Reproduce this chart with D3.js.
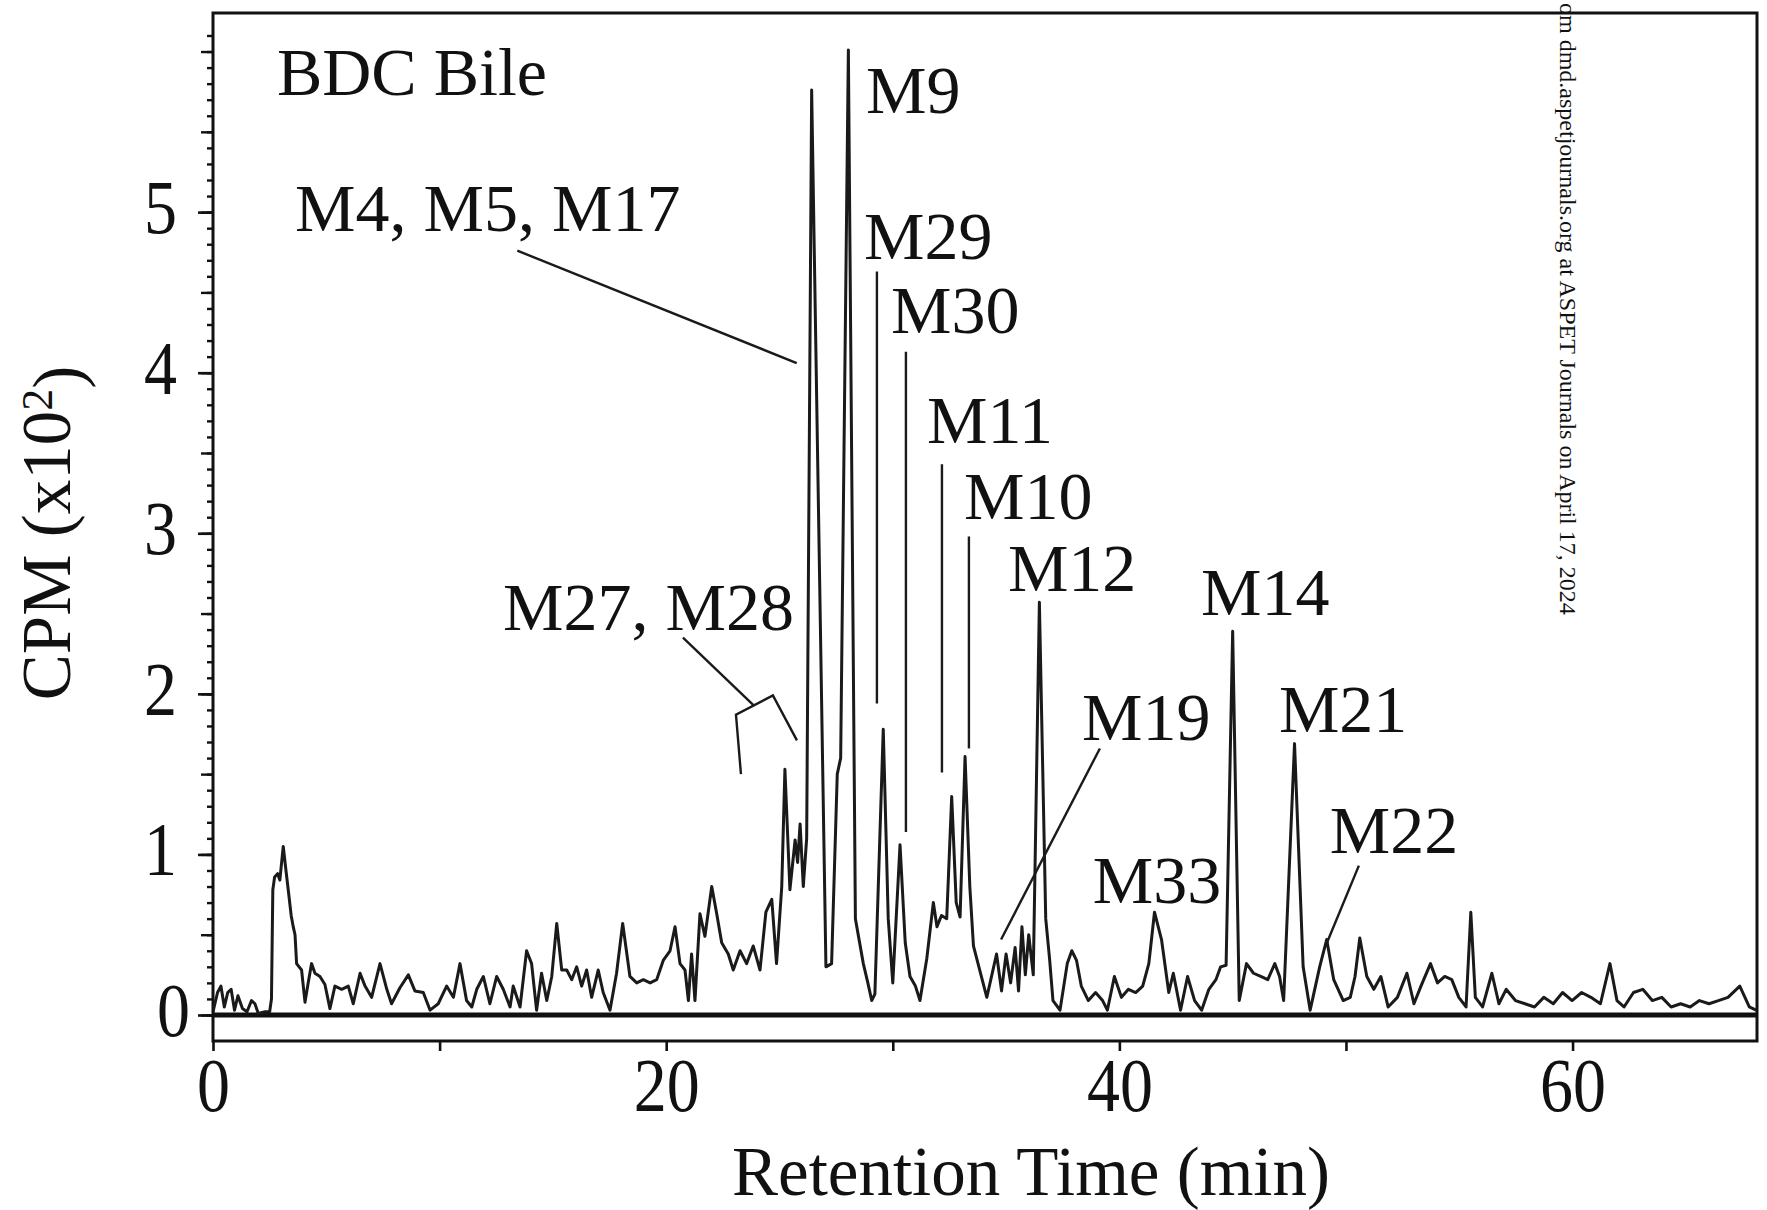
<!DOCTYPE html>
<html>
<head>
<meta charset="utf-8">
<script src="https://cdn.jsdelivr.net/npm/d3@7"></script>
<style>
    body { margin: 0; background: #fff; }
    svg text { font-family: "Liberation Serif", "Times New Roman", serif; fill: #111; }
</style>
</head>
<body>
<svg id="chart" width="1767" height="1210"></svg>
<script>
'use strict';

// radio trace: [retention time (min), CPM x10^2]
var trace = [
    [0.0, 0.02], [0.2, 0.14], [0.35, 0.18], [0.5, 0.05], [0.65, 0.14], [0.8, 0.16], [0.95, 0.03],
    [1.1, 0.12], [1.3, 0.04], [1.5, 0.02], [1.7, 0.09], [1.85, 0.07], [2.0, 0.01], [2.3, 0.02],
    [2.5, 0.02], [2.58, 0.1], [2.64, 0.78], [2.72, 0.86], [2.85, 0.88], [2.95, 0.84], [3.1, 1.05],
    [3.22, 0.9], [3.32, 0.78], [3.45, 0.62], [3.54, 0.55], [3.62, 0.5], [3.69, 0.32], [3.8, 0.3],
    [3.91, 0.28], [4.06, 0.08], [4.2, 0.2], [4.35, 0.32], [4.5, 0.26], [4.72, 0.24], [4.94, 0.19],
    [5.16, 0.04], [5.38, 0.18], [5.68, 0.16], [5.97, 0.18], [6.19, 0.07], [6.49, 0.26], [6.71, 0.18],
    [7.0, 0.11], [7.37, 0.32], [7.67, 0.16], [7.88, 0.07], [8.25, 0.17], [8.62, 0.25], [8.91, 0.15],
    [9.28, 0.14], [9.58, 0.03], [9.94, 0.07], [10.31, 0.18], [10.61, 0.11], [10.9, 0.32], [11.19, 0.09],
    [11.42, 0.05], [11.64, 0.16], [11.93, 0.24], [12.22, 0.07], [12.52, 0.24], [12.81, 0.16], [13.11, 0.05],
    [13.25, 0.18], [13.55, 0.05], [13.84, 0.4], [14.06, 0.32], [14.28, 0.03], [14.5, 0.26], [14.73, 0.09],
    [14.95, 0.24], [15.17, 0.57], [15.39, 0.28], [15.61, 0.28], [15.83, 0.22], [16.05, 0.3], [16.27, 0.18],
    [16.49, 0.28], [16.71, 0.11], [17.0, 0.28], [17.22, 0.14], [17.52, 0.03], [17.81, 0.26], [18.08, 0.57],
    [18.4, 0.24], [18.7, 0.2], [18.99, 0.22], [19.29, 0.2], [19.58, 0.22], [19.87, 0.34], [20.17, 0.4],
    [20.39, 0.55], [20.61, 0.32], [20.83, 0.28], [20.98, 0.09], [21.12, 0.38], [21.27, 0.09], [21.49, 0.63],
    [21.71, 0.49], [22.01, 0.8], [22.23, 0.63], [22.45, 0.45], [22.74, 0.38], [22.96, 0.28], [23.26, 0.4],
    [23.55, 0.32], [23.84, 0.43], [24.14, 0.28], [24.4, 0.64], [24.66, 0.72], [24.87, 0.32], [25.1, 0.8],
    [25.24, 1.53], [25.46, 0.78], [25.69, 1.09], [25.8, 0.95], [25.91, 1.19], [26.05, 0.8], [26.2, 1.1],
    [26.42, 5.76], [27.05, 0.3], [27.3, 0.32], [27.55, 1.5], [27.7, 1.6], [28.04, 6.01], [28.35, 0.6],
    [28.7, 0.32], [28.9, 0.2], [29.07, 0.09], [29.21, 0.13], [29.58, 1.78], [29.8, 0.6], [30.0, 0.2],
    [30.32, 1.06], [30.55, 0.45], [30.76, 0.24], [31.0, 0.18], [31.2, 0.09], [31.5, 0.35], [31.79, 0.7],
    [31.95, 0.55], [32.15, 0.62], [32.38, 0.6], [32.6, 1.36], [32.8, 0.7], [32.97, 0.61], [33.19, 1.61],
    [33.4, 0.8], [33.56, 0.43], [33.8, 0.3], [34.15, 0.11], [34.58, 0.38], [34.8, 0.15], [35.0, 0.38],
    [35.2, 0.2], [35.4, 0.42], [35.55, 0.15], [35.7, 0.55], [35.85, 0.25], [36.0, 0.5], [36.2, 0.25],
    [36.47, 2.57], [36.75, 0.6], [36.92, 0.35], [37.07, 0.09], [37.38, 0.03], [37.7, 0.32], [37.9, 0.4],
    [38.11, 0.34], [38.32, 0.18], [38.63, 0.09], [38.95, 0.14], [39.26, 0.09], [39.47, 0.03], [39.78, 0.24],
    [40.09, 0.11], [40.4, 0.16], [40.72, 0.14], [41.03, 0.18], [41.3, 0.32], [41.55, 0.64], [41.86, 0.47],
    [42.18, 0.14], [42.38, 0.26], [42.7, 0.03], [43.01, 0.24], [43.32, 0.09], [43.63, 0.03], [43.95, 0.16],
    [44.26, 0.22], [44.47, 0.3], [44.71, 0.31], [45.0, 2.39], [45.29, 0.09], [45.61, 0.32], [45.92, 0.26],
    [46.24, 0.24], [46.55, 0.22], [46.86, 0.32], [47.07, 0.24], [47.25, 0.09], [47.73, 1.69], [48.11, 0.3],
    [48.42, 0.03], [48.84, 0.3], [49.15, 0.47], [49.46, 0.22], [49.88, 0.09], [50.19, 0.11], [50.4, 0.24],
    [50.61, 0.48], [50.92, 0.24], [51.23, 0.16], [51.54, 0.24], [51.86, 0.05], [52.27, 0.11], [52.69, 0.26],
    [53.0, 0.07], [53.31, 0.18], [53.73, 0.32], [54.04, 0.2], [54.36, 0.24], [54.67, 0.22], [54.98, 0.11],
    [55.3, 0.05], [55.51, 0.64], [55.71, 0.11], [56.03, 0.05], [56.44, 0.26], [56.75, 0.07], [57.07, 0.16],
    [57.48, 0.09], [57.9, 0.07], [58.32, 0.05], [58.73, 0.11], [59.15, 0.07], [59.56, 0.14], [59.98, 0.09],
    [60.4, 0.14], [60.81, 0.11], [61.23, 0.07], [61.65, 0.32], [61.96, 0.09], [62.27, 0.05], [62.69, 0.14],
    [63.1, 0.16], [63.52, 0.09], [63.94, 0.11], [64.35, 0.05], [64.77, 0.07], [65.19, 0.05], [65.6, 0.09],
    [66.02, 0.07], [66.44, 0.09], [66.86, 0.11], [67.38, 0.18], [67.8, 0.05], [68.1, 0.03]
];

var xTickValues = [0, 10, 20, 30, 40, 50, 60];
var xTickLabels = [0, 20, 40, 60];
var yTickLabels = [0, 1, 2, 3, 4, 5];

// metabolite labels, anchored at the left end of their baseline (time, cpm)
var peakLabels = [
    {text: "M4, M5, M17", t: 3.62, v: 4.88},
    {text: "M27, M28", t: 12.8, v: 2.40},
    {text: "M9", t: 28.82, v: 5.62},
    {text: "M29", t: 28.73, v: 4.71},
    {text: "M30", t: 29.92, v: 4.25},
    {text: "M11", t: 31.51, v: 3.56},
    {text: "M10", t: 33.14, v: 3.09},
    {text: "M12", t: 35.08, v: 2.64},
    {text: "M14", t: 43.6, v: 2.49},
    {text: "M19", t: 38.35, v: 1.71},
    {text: "M21", t: 47.04, v: 1.76},
    {text: "M22", t: 49.29, v: 1.01},
    {text: "M33", t: 38.83, v: 0.70}
];

// leader lines from labels to peaks, in (time, cpm)
var leaderLines = [
    [[13.43, 4.76], [25.76, 4.06]],
    [[20.74, 2.35], [23.85, 1.93]],
    [[23.3, 1.5], [23.08, 1.87], [24.71, 1.99], [25.77, 1.71]],
    [[29.3, 4.63], [29.3, 1.94]],
    [[30.58, 4.13], [30.58, 1.14]],
    [[32.17, 3.43], [32.17, 1.51]],
    [[33.36, 2.98], [33.36, 1.66]],
    [[39.14, 1.66], [34.78, 0.47]],
    [[50.57, 0.93], [49.16, 0.45]]
];

var panelTitle = {text: "BDC Bile", t: 2.82, v: 5.73};
var xTitle = "Retention Time (min)";
var watermark = "om dmd.aspetjournals.org at ASPET Journals on April 17, 2024";

var svg = d3.select("#chart");
var plotLeft = 213, plotRight = 1757, plotTop = 13, plotBottom = 1041;
var digitStretch = 1.15;

var x = d3.scaleLinear().domain([0, 68.14]).range([plotLeft, plotRight]);
var y = d3.scaleLinear().domain([0, 6.24]).range([1015, plotTop]);

svg.append("defs").append("clipPath")
    .attr("id", "plotClip")
    .append("rect")
    .attr("x", plotLeft)
    .attr("y", plotTop)
    .attr("width", plotRight - plotLeft)
    .attr("height", plotBottom - plotTop);

// y axis: minor, half and major ticks
function drawYTicks(values, size) {
    svg.append("g")
        .attr("transform", "translate(" + plotLeft + ",0)")
        .call(d3.axisLeft(y).tickValues(values).tickSize(size).tickSizeOuter(0).tickFormat(""))
        .call(function(g) {
            g.select(".domain").remove();
            g.selectAll("line").attr("stroke", "#111").attr("stroke-width", 2.4);
        });
}
drawYTicks(d3.range(0, 62).map(function(i) { return i / 10; }), 6);
drawYTicks(d3.range(0, 13).map(function(i) { return i / 2; }), 12);

var yAxis = svg.append("g")
    .attr("transform", "translate(" + plotLeft + ",0)")
    .call(d3.axisLeft(y).tickValues(yTickLabels).tickSize(15).tickSizeOuter(0).tickFormat(d3.format("d")));
yAxis.select(".domain").remove();
yAxis.selectAll("line").attr("stroke", "#111").attr("stroke-width", 2.6);
yAxis.selectAll("text")
    .attr("x", function(d) { return d === 0 ? -23 : -36; })
    .attr("dy", "0.27em")
    .attr("transform", "scale(1," + digitStretch + ")")
    .style("font-size", "66px")
    .style("font-family", "'Liberation Serif', serif")
    .attr("fill", "#111");

// x axis below the frame
var xAxis = svg.append("g")
    .attr("transform", "translate(0," + plotBottom + ")")
    .call(d3.axisBottom(x)
        .tickValues(xTickValues)
        .tickSize(10)
        .tickSizeOuter(0)
        .tickFormat(function(d) { return xTickLabels.indexOf(d) >= 0 ? d : ""; }));
xAxis.select(".domain").remove();
xAxis.selectAll("line").attr("stroke", "#111").attr("stroke-width", 2.6);
xAxis.selectAll("text")
    .attr("y", 70 / digitStretch)
    .attr("dy", 0)
    .attr("transform", "scale(1," + digitStretch + ")")
    .style("font-size", "66px")
    .style("font-family", "'Liberation Serif', serif")
    .attr("fill", "#111");

// frame
svg.append("rect")
    .attr("x", plotLeft)
    .attr("y", plotTop)
    .attr("width", plotRight - plotLeft)
    .attr("height", plotBottom - plotTop)
    .attr("fill", "none")
    .attr("stroke", "#111")
    .attr("stroke-width", 3);

// heavy zero line
svg.append("line")
    .attr("x1", x(0))
    .attr("x2", x(68.14))
    .attr("y1", y(0))
    .attr("y2", y(0))
    .attr("stroke", "#111")
    .attr("stroke-width", 5);

var line = d3.line()
    .x(function(d) { return x(d[0]); })
    .y(function(d) { return y(d[1]); });

svg.append("path")
    .datum(trace)
    .attr("clip-path", "url(#plotClip)")
    .attr("d", line)
    .attr("fill", "none")
    .attr("stroke", "#1a1a1a")
    .attr("stroke-width", 3)
    .attr("stroke-linejoin", "round");

svg.append("g")
    .selectAll("path")
    .data(leaderLines)
    .enter()
    .append("path")
    .attr("d", line)
    .attr("fill", "none")
    .attr("stroke", "#1a1a1a")
    .attr("stroke-width", 2.4);

svg.append("g")
    .selectAll("text")
    .data(peakLabels)
    .enter()
    .append("text")
    .attr("x", function(d) { return x(d.t); })
    .attr("y", function(d) { return y(d.v); })
    .style("font-size", "68px")
    .text(function(d) { return d.text; });

svg.append("text")
    .attr("x", x(panelTitle.t))
    .attr("y", y(panelTitle.v))
    .style("font-size", "68px")
    .text(panelTitle.text);

// axis titles
svg.append("text")
    .attr("x", 1031)
    .attr("y", 1195)
    .attr("text-anchor", "middle")
    .style("font-size", "69px")
    .text(xTitle);

var yTitle = svg.append("text")
    .attr("transform", "translate(70,533) rotate(-90)")
    .attr("text-anchor", "middle")
    .style("font-size", "69px");
yTitle.append("tspan").text("CPM (x10");
yTitle.append("tspan").attr("dy", "-0.42em").style("font-size", "44px").text("2");
yTitle.append("tspan").attr("dy", "0.42em").text(")");

svg.append("text")
    .attr("transform", "translate(1560,3) rotate(90)")
    .style("font-size", "24px")
    .text(watermark);
</script>
</body>
</html>
